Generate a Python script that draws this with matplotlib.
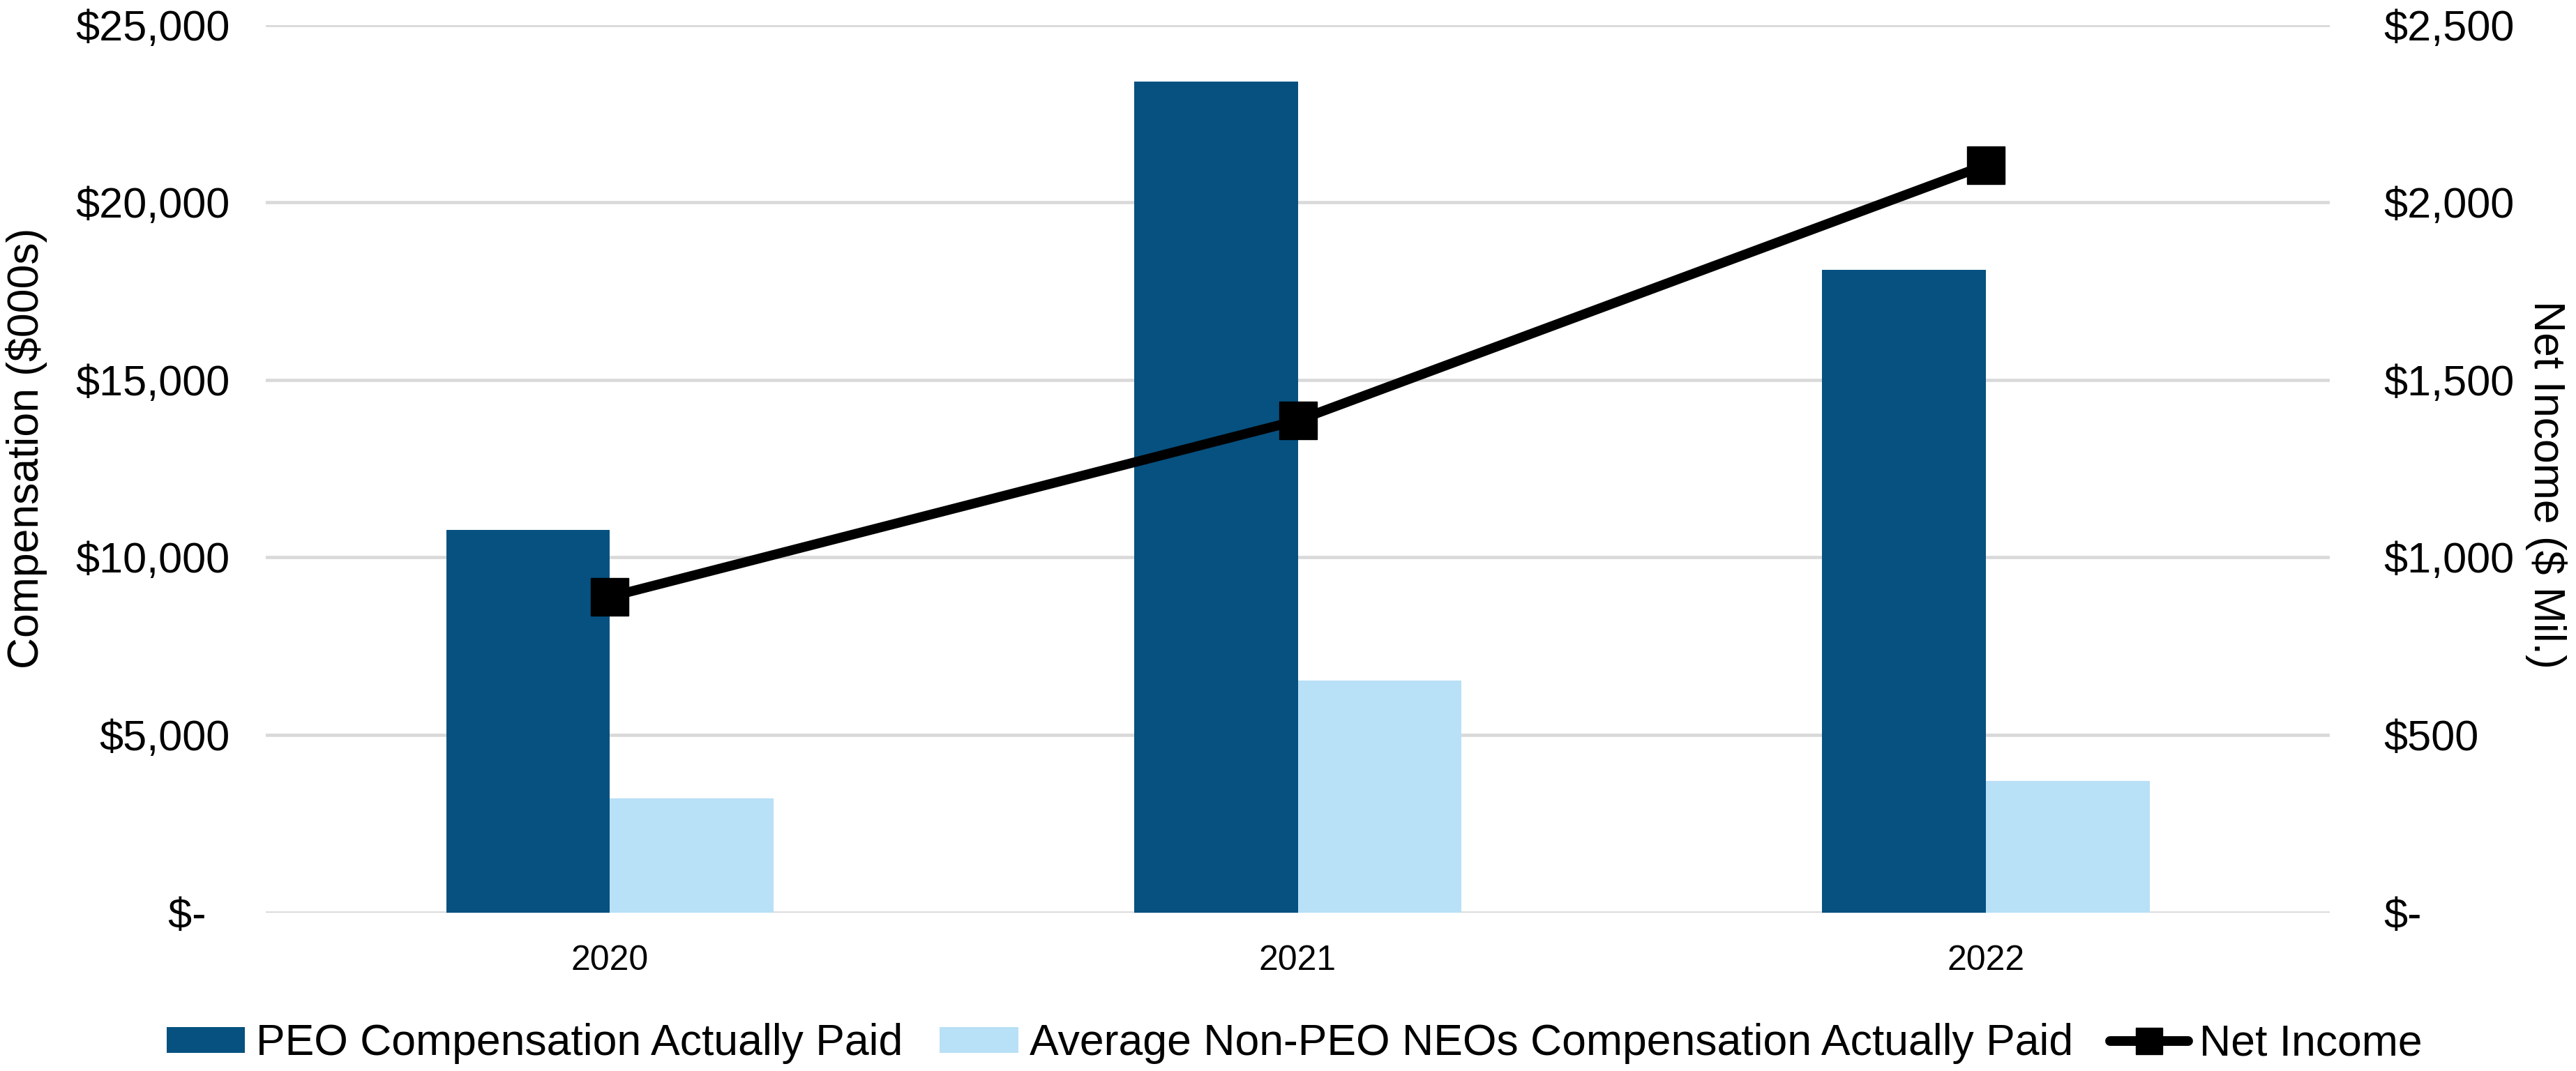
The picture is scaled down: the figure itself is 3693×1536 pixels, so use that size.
import matplotlib
matplotlib.use('Agg')
import matplotlib.pyplot as plt
import numpy as np
from matplotlib.ticker import FuncFormatter

plt.rcParams['font.family'] = ['Liberation Sans', 'DejaVu Sans']

years = ['2020', '2021', '2022']
peo_cap = [10780, 23400, 18100]          # $000s
neo_avg_cap = [3210, 6530, 3700]         # $000s
net_income = [889, 1386, 2105]           # $ Mil.

dark_blue = '#065180'
light_blue = '#B8E0F6'
grid_gray = '#D9D9D9'


def money_left(v, pos):
    # accounting style: the dash sits a little in from the right edge
    if v == 0:
        return '$-  '
    return '${:,.0f}'.format(v)


def money_right(v, pos):
    if v == 0:
        return '$-'
    return '${:,.0f}'.format(v)


fig = plt.figure(figsize=(36.93, 15.36), dpi=100)
ax = fig.add_axes([0.1032, 0.1480, 0.8012, 0.8288])
ax2 = ax.twinx()

x = np.arange(len(years))
w = 0.238
ax.bar(x - w / 2, peo_cap, w, color=dark_blue, label='PEO Compensation Actually Paid', zorder=2)
ax.bar(x + w / 2, neo_avg_cap, w, color=light_blue,
       label='Average Non-PEO NEOs Compensation Actually Paid', zorder=2)
ax2.plot(x, net_income, color='black', lw=10, marker='s', markersize=39,
         solid_capstyle='round', label='Net Income')

ax.set_xlim(-0.5, 2.5)
ax.set_ylim(0, 25000)
ax2.set_ylim(0, 2500)
ax.set_yticks(np.arange(0, 25001, 5000))
ax2.set_yticks(np.arange(0, 2501, 500))
ax.yaxis.set_major_formatter(FuncFormatter(money_left))
ax2.yaxis.set_major_formatter(FuncFormatter(money_right))
ax.set_xticks(x)
ax.set_xticklabels(years)

ax.set_axisbelow(True)
ax.grid(axis='y', color=grid_gray, lw=3.4, zorder=0)
for a in (ax, ax2):
    for s in a.spines.values():
        s.set_visible(False)

ax.tick_params(axis='y', length=0, pad=37, labelsize=44)
ax.tick_params(axis='x', length=0, pad=33, labelsize=36)
ax2.tick_params(axis='y', length=0, pad=56, labelsize=44)

ax.set_ylabel('Compensation ($000s)', fontsize=45)
ax.yaxis.set_label_coords(-0.1058, 0.523)
ax2.set_ylabel('Net Income ($ Mil.)', fontsize=45, rotation=270, va='center')
ax2.yaxis.set_label_coords(1.1048, 0.482)

h1, l1 = ax.get_legend_handles_labels()
h2, l2 = ax2.get_legend_handles_labels()
fig.legend(h1 + h2, l1 + l2, loc='center', bbox_to_anchor=(0.5025, 0.0254), ncol=3,
           frameon=False, fontsize=45, handlelength=1.8, handleheight=0.55,
           handletextpad=0.25, columnspacing=0.85, markerscale=0.7)

fig.savefig('out.png', dpi=100)
